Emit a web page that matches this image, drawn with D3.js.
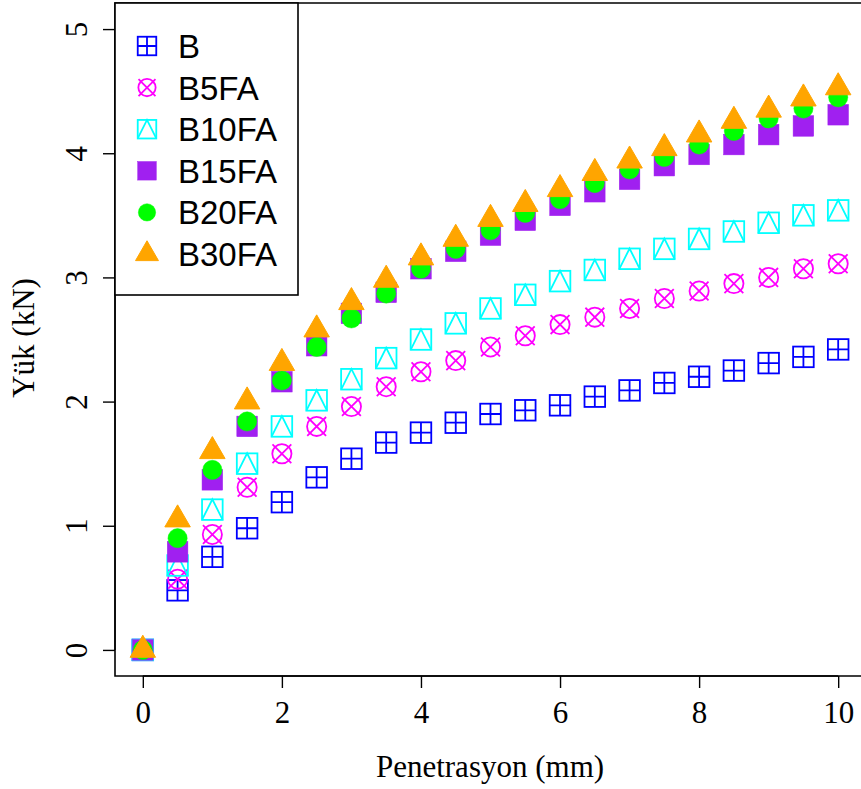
<!DOCTYPE html>
<html>
<head>
<meta charset="utf-8">
<script src="https://cdn.jsdelivr.net/npm/d3@7"></script>
<style>
  html, body { margin: 0; padding: 0; background: #fff; }
  svg { display: block; }
</style>
</head>
<body>
<svg id="chart" width="861" height="789"></svg>
<script>
const penetration = [0,0.5,1,1.5,2,2.5,3,3.5,4,4.5,5,5.5,6,6.5,7,7.5,8,8.5,9,9.5,10];
const seriesNames = ["B","B5FA","B10FA","B15FA","B20FA","B30FA"];
const B      = [0,0.48,0.75,0.98,1.19,1.39,1.54,1.67,1.75,1.83,1.90,1.93,1.97,2.04,2.09,2.15,2.20,2.25,2.31,2.36,2.42];
const B5FA   = [0,0.57,0.93,1.31,1.58,1.80,1.96,2.12,2.24,2.33,2.44,2.53,2.62,2.68,2.75,2.83,2.89,2.95,3.00,3.07,3.11];
const B10FA  = [0,0.68,1.13,1.50,1.80,2.01,2.18,2.35,2.50,2.63,2.75,2.86,2.97,3.06,3.15,3.23,3.31,3.37,3.44,3.50,3.54];
const B15FA  = [0,0.79,1.37,1.80,2.16,2.45,2.71,2.88,3.07,3.21,3.34,3.46,3.58,3.69,3.79,3.90,3.99,4.07,4.15,4.22,4.31];
const B20FA  = [0,0.90,1.45,1.84,2.17,2.44,2.67,2.87,3.07,3.23,3.38,3.52,3.63,3.76,3.87,3.97,4.07,4.18,4.28,4.36,4.45];
const B30FA  = [0,1.05,1.60,2.00,2.31,2.58,2.80,2.98,3.16,3.31,3.47,3.59,3.71,3.84,3.94,4.04,4.15,4.26,4.35,4.44,4.53];
const xTicks = [0,2,4,6,8,10];
const yTicks = [0,1,2,3,4,5];
const colors = ["#0000FF","#FF00FF","#00FFFF","#A020F0","#00FF00","#FFA500"];
const symbols = ["sqplus","circx","sqtri","sqfill","circfill","trifill"];
const allSeries = [B,B5FA,B10FA,B15FA,B20FA,B30FA];

const svg = d3.select("#chart");
const pLeft = 115, pTop = 3, pBottom = 676, pRight = 866;

const x = d3.scaleLinear().domain([-0.4, 10.4]).range([pLeft, pRight]);
const y = d3.scaleLinear().domain([-0.21, 5.21]).range([pBottom, pTop]);

const serif = "'Liberation Serif','Times New Roman',serif";
const sans = "'Liberation Sans',Arial,sans-serif";

function drawSymbol(g, type, color, s) {
  const h = 10.3 * s;
  const r = 9.6 * s;
  const lw = 1.8;
  if (type === "sqplus") {
    g.append("rect").attr("x",-h).attr("y",-h).attr("width",2*h).attr("height",2*h)
      .attr("fill","none").attr("stroke",color).attr("stroke-width",lw);
    g.append("path").attr("d",`M${-h},0H${h}M0,${-h}V${h}`).attr("stroke",color).attr("stroke-width",lw).attr("fill","none");
  } else if (type === "circx") {
    g.append("circle").attr("r",r).attr("fill","none").attr("stroke",color).attr("stroke-width",lw);
    const e = r*0.98;
    g.append("path").attr("d",`M${-e},${-e}L${e},${e}M${-e},${e}L${e},${-e}`).attr("stroke",color).attr("stroke-width",lw).attr("fill","none");
  } else if (type === "sqtri") {
    g.append("rect").attr("x",-h).attr("y",-h).attr("width",2*h).attr("height",2*h)
      .attr("fill","none").attr("stroke",color).attr("stroke-width",lw);
    g.append("path").attr("d",`M${-h},${h}L0,${-h}L${h},${h}`).attr("stroke",color).attr("stroke-width",lw).attr("fill","none");
  } else if (type === "sqfill") {
    g.append("rect").attr("x",-h).attr("y",-h).attr("width",2*h).attr("height",2*h)
      .attr("fill",color).attr("stroke",color).attr("stroke-width",0.5);
  } else if (type === "circfill") {
    g.append("circle").attr("r",r).attr("fill",color).attr("stroke",color).attr("stroke-width",0.5);
  } else if (type === "trifill") {
    const tr = 14.7 * s;
    const xc = tr*0.866, yc = tr*0.5;
    g.append("path").attr("d",`M0,${-tr}L${xc},${yc}L${-xc},${yc}Z`)
      .attr("fill",color).attr("stroke",color).attr("stroke-width",1);
  }
}

svg.append("clipPath").attr("id","clip").append("rect")
  .attr("x",pLeft).attr("y",pTop).attr("width",pRight-pLeft).attr("height",pBottom-pTop);

const plot = svg.append("g").attr("clip-path","url(#clip)");
allSeries.forEach((vals, si) => {
  const g = plot.append("g").attr("class","series-"+seriesNames[si]);
  vals.forEach((v, i) => {
    const m = g.append("g").attr("transform",`translate(${x(penetration[i])},${y(v)})`);
    drawSymbol(m, symbols[si], colors[si], 1);
  });
});

svg.append("path")
  .attr("d",`M${pRight},${pTop}H${pLeft}V${pBottom}H${pRight}`)
  .attr("fill","none").attr("stroke","#000").attr("stroke-width",1.6);

const xAxis = d3.axisBottom(x).tickValues(xTicks).tickSize(12).tickPadding(4).tickFormat(d3.format("d"));
const gx = svg.append("g").attr("transform",`translate(0,${pBottom})`).call(xAxis);
gx.select(".domain").attr("d",`M${x(0)},0H${x(10)}`).attr("stroke","#000").attr("stroke-width",1.4);
gx.selectAll(".tick line").attr("stroke","#000").attr("stroke-width",1.4);
gx.selectAll(".tick text").attr("font-family",serif).attr("font-size",31).attr("fill","#000")
  .attr("dy",null).attr("y",47);

const yAxis = d3.axisLeft(y).tickValues(yTicks).tickSize(12).tickFormat(d3.format("d"));
const gy = svg.append("g").attr("transform",`translate(${pLeft},0)`).call(yAxis);
gy.select(".domain").attr("d",`M0,${y(0)}V${y(5)}`).attr("stroke","#000").attr("stroke-width",1.4);
gy.selectAll(".tick line").attr("stroke","#000").attr("stroke-width",1.4);
gy.selectAll(".tick text")
  .attr("font-family",serif).attr("font-size",31).attr("fill","#000")
  .attr("x",null).attr("dy",null)
  .attr("text-anchor","middle")
  .attr("transform","translate(-28,0) rotate(-90)")
  .attr("y",0);

svg.append("text").attr("x",490).attr("y",777).attr("text-anchor","middle")
  .attr("font-family",serif).attr("font-size",31).text("Penetrasyon (mm)");
svg.append("text").attr("transform","translate(34,338) rotate(-90)").attr("text-anchor","middle")
  .attr("font-family",serif).attr("font-size",31).text("Yük (kN)");

const lg = svg.append("g");
lg.append("rect").attr("x",pLeft).attr("y",pTop).attr("width",298-pLeft).attr("height",295-pTop)
  .attr("fill","#fff").attr("stroke","#000").attr("stroke-width",1.6);
seriesNames.forEach((name, i) => {
  const cy = 46 + i*41.6;
  const m = lg.append("g").attr("transform",`translate(147,${cy})`);
  drawSymbol(m, symbols[i], colors[i], 0.9);
  lg.append("text").attr("x",178).attr("y",cy+12).attr("font-family",sans).attr("font-size",33)
    .attr("fill","#000").text(name);
});
</script>
</body>
</html>
